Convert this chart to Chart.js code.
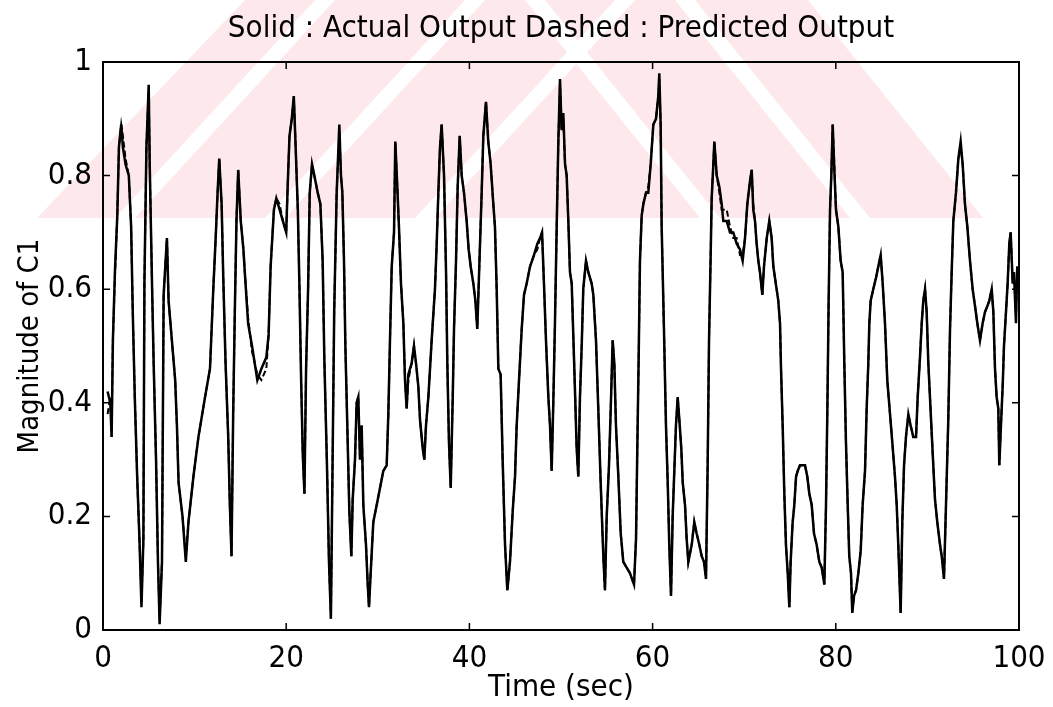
<!DOCTYPE html>
<html>
<head>
<meta charset="utf-8">
<title>Magnitude of C1</title>
<script src="https://cdn.jsdelivr.net/npm/chart.js@4.4.1/dist/chart.umd.min.js"></script>
<style>
  html, body { margin: 0; padding: 0; background: #ffffff; }
  #graficoC1 { display: block; }
</style>
</head>
<body>
<canvas id="graficoC1" width="1053" height="707"></canvas>
<script>
// Tempo (s)
const timeSec = [
    0.5, 0.8, 0.94, 1.08, 1.3, 1.56, 1.74, 1.99, 2.17, 2.46,
    2.82, 3.07, 3.25, 3.47, 3.73, 3.98, 4.2, 4.41, 4.52, 4.74,
    4.99, 5.1, 5.35, 5.53, 5.79, 6.0, 6.18, 6.44, 6.62, 6.98,
    7.16, 7.52, 7.88, 8.07, 8.25, 8.68, 9.04, 9.33, 9.87, 10.42,
    11.14, 11.68, 12.04, 12.3, 12.51, 12.69, 12.95, 13.13, 13.38, 13.67,
    13.85, 14.03, 14.21, 14.39, 14.57, 14.76, 15.04, 15.33, 15.48, 15.84,
    16.27, 16.56, 16.85, 17.29, 17.83, 18.08, 18.3, 18.66, 18.92, 19.28,
    19.64, 20.0, 20.18, 20.36, 20.61, 20.83, 21.01, 21.27, 21.45, 21.63,
    21.81, 21.99, 22.17, 22.39, 22.57, 22.82, 23.07, 23.44, 23.73, 23.98,
    24.16, 24.45, 24.67, 24.88, 25.06, 25.24, 25.51, 25.8, 25.98, 26.13,
    26.31, 26.46, 26.67, 26.89, 27.11, 27.26, 27.51, 27.69, 27.87, 28.06,
    28.24, 28.42, 28.71, 28.9, 29.04, 29.22, 29.51, 29.88, 30.24, 30.6,
    30.97, 31.15, 31.33, 31.52, 31.77, 31.91, 32.13, 32.31, 32.53, 32.79,
    32.97, 33.15, 33.33, 33.7, 33.95, 34.17, 34.42, 34.61, 34.9, 35.08,
    35.26, 35.52, 35.7, 35.88, 36.24, 36.43, 36.61, 36.79, 36.97, 37.23,
    37.45, 37.59, 37.77, 37.96, 38.18, 38.32, 38.54, 38.72, 38.94, 39.16,
    39.41, 39.7, 39.92, 40.14, 40.43, 40.65, 40.86, 41.08, 41.34, 41.52,
    41.81, 42.06, 42.32, 42.61, 42.79, 42.98, 43.16, 43.41, 43.63, 43.89,
    44.14, 44.43, 44.73, 44.98, 45.16, 45.45, 45.71, 45.96, 46.25, 46.62,
    47.05, 47.42, 47.71, 47.93, 48.14, 48.36, 48.62, 48.8, 48.98, 49.16,
    49.34, 49.53, 49.71, 49.89, 50.07, 50.25, 50.44, 50.62, 50.8, 50.98,
    51.17, 51.34, 51.53, 51.71, 51.89, 52.07, 52.26, 52.43, 52.73, 52.98,
    53.35, 53.53, 53.82, 54.07, 54.33, 54.62, 54.8, 54.99, 55.24, 55.43,
    55.64, 55.82, 56.0, 56.26, 56.52, 56.8, 57.17, 57.53, 57.97, 58.19,
    58.33, 58.48, 58.62, 58.81, 58.99, 59.28, 59.53, 59.79, 60.08, 60.37,
    60.62, 60.73, 60.88, 60.99, 61.24, 61.46, 61.65, 61.82, 62.01, 62.19,
    62.37, 62.55, 62.74, 62.92, 63.13, 63.29, 63.54, 63.72, 63.9, 64.27,
    64.55, 64.81, 65.1, 65.36, 65.61, 65.83, 66.01, 66.16, 66.34, 66.45,
    66.63, 66.74, 67.0, 67.29, 67.54, 67.72, 68.09, 68.45, 68.81, 69.18,
    69.54, 69.83, 70.09, 70.34, 70.63, 70.82, 70.99, 71.18, 71.36, 71.54,
    71.72, 71.98, 72.16, 72.46, 72.74, 73.0, 73.18, 73.36, 73.72, 73.91,
    74.02, 74.2, 74.38, 74.56, 74.75, 74.93, 75.07, 75.29, 75.47, 75.66,
    75.84, 76.09, 76.64, 76.89, 77.11, 77.37, 77.62, 77.91, 78.2, 78.46,
    78.75, 78.93, 79.08, 79.22, 79.37, 79.51, 79.66, 79.84, 80.02, 80.28,
    80.53, 80.75, 80.93, 81.11, 81.3, 81.47, 81.66, 81.8, 81.99, 82.21,
    82.46, 82.72, 82.93, 83.19, 83.37, 83.55, 83.66, 83.81, 84.09, 84.39,
    84.64, 84.9, 85.12, 85.37, 85.62, 85.92, 86.17, 86.46, 86.65, 86.82,
    87.08, 87.26, 87.45, 87.66, 87.92, 88.17, 88.46, 88.76, 88.94, 89.19,
    89.38, 89.55, 89.74, 89.92, 90.1, 90.28, 90.58, 90.83, 91.08, 91.38,
    91.56, 91.81, 92.03, 92.28, 92.47, 92.65, 92.83, 93.12, 93.38, 93.63,
    93.85, 94.1, 94.36, 94.65, 94.94, 95.2, 95.45, 95.74, 96.03, 96.29,
    96.54, 96.76, 97.02, 97.2, 97.38, 97.56, 97.74, 97.85, 98.03, 98.22,
    98.36, 98.58, 98.76, 98.94, 99.09, 99.31, 99.45, 99.67, 99.81, 100
];

// Saída real (linha cheia)
const actualOutput = [
    .42, .40, .34, .51, .63, .73, .85, .89, .85, .82,
    .80, .71, .56, .41, .27, .16, .04, .16, .61, .85,
    .96, .82, .61, .47, .30, .12, .01, .12, .59, .69,
    .58, .51, .44, .36, .26, .20, .12, .19, .27, .34,
    .41, .46, .60, .69, .77, .83, .75, .62, .47, .34,
    .22, .13, .38, .56, .72, .81, .72, .67, .63, .54,
    .50, .47, .44, .46, .48, .52, .64, .74, .76, .74,
    .72, .70, .79, .87, .90, .94, .86, .74, .60, .44,
    .31, .24, .46, .60, .77, .82, .80, .77, .75, .65,
    .48, .29, .12, .02, .29, .56, .77, .89, .80, .77,
    .65, .50, .36, .21, .13, .23, .30, .40, .41, .30,
    .36, .22, .15, .08, .04, .10, .19, .22, .25, .28,
    .29, .38, .51, .64, .70, .86, .78, .71, .61, .54,
    .44, .39, .45, .47, .50, .47, .43, .37, .32, .30,
    .36, .41, .46, .51, .60, .68, .77, .85, .89, .80,
    .63, .47, .33, .25, .41, .53, .65, .78, .87, .80,
    .77, .72, .67, .64, .61, .58, .53, .64, .77, .87,
    .93, .86, .82, .75, .71, .60, .46, .45, .30, .15,
    .07, .12, .21, .27, .36, .45, .53, .59, .61, .64,
    .66, .68, .69, .70, .61, .51, .41, .36, .28, .40,
    .54, .71, .86, .97, .88, .91, .82, .80, .72, .63,
    .61, .52, .42, .32, .27, .41, .50, .60, .65, .63,
    .61, .59, .51, .39, .26, .13, .07, .20, .29, .39,
    .51, .47, .36, .27, .17, .12, .11, .10, .08, .16,
    .32, .48, .65, .73, .75, .77, .77, .82, .89, .90,
    .94, .98, .89, .71, .53, .36, .26, .15, .06, .20,
    .28, .36, .41, .37, .32, .26, .22, .16, .12, .15,
    .19, .17, .15, .13, .12, .09, .29, .51, .66, .76,
    .82, .86, .80, .78, .75, .72, .72, .70, .70, .68,
    .67, .65, .69, .75, .79, .81, .74, .72, .68, .65,
    .63, .59, .64, .69, .72, .69, .64, .62, .58, .54,
    .46, .36, .24, .15, .10, .04, .12, .19, .22, .27,
    .28, .29, .29, .27, .24, .22, .17, .15, .12, .11,
    .08, .22, .39, .58, .74, .80, .89, .81, .74, .71,
    .65, .63, .47, .33, .22, .13, .10, .03, .06, .07,
    .10, .14, .22, .28, .39, .47, .54, .58, .60, .62,
    .64, .66, .61, .54, .44, .38, .33, .27, .22, .15,
    .03, .19, .29, .34, .38, .36, .34, .34, .41, .48,
    .54, .58, .60, .56, .47, .41, .31, .23, .19, .15,
    .13, .09, .22, .37, .53, .63, .72, .77, .83, .86,
    .82, .75, .71, .65, .60, .57, .54, .51, .54, .56,
    .57, .58, .60, .56, .46, .41, .39, .29, .36, .43,
    .50, .56, .61, .68, .70, .61, .63, .54, .64, .60
];

// Saída prevista (linha tracejada), quase sobreposta à real
const predictedOutput = [
    .38, .41, .34, .51, .62, .73, .85, .89, .87, .83,
    .80, .71, .56, .41, .27, .16, .05, .16, .61, .85,
    .95, .82, .61, .47, .30, .12, .02, .12, .59, .69,
    .58, .51, .44, .36, .26, .20, .13, .19, .27, .34,
    .41, .46, .60, .69, .77, .83, .75, .62, .47, .34,
    .22, .13, .38, .56, .72, .81, .72, .67, .63, .55,
    .49, .47, .45, .44, .46, .52, .64, .74, .76, .75,
    .72, .70, .79, .87, .90, .94, .86, .74, .60, .44,
    .31, .24, .46, .60, .77, .82, .80, .77, .75, .65,
    .48, .29, .12, .02, .29, .56, .77, .88, .80, .77,
    .65, .50, .36, .21, .13, .23, .30, .40, .41, .30,
    .36, .22, .15, .08, .04, .10, .19, .22, .25, .28,
    .29, .38, .51, .64, .70, .86, .78, .71, .61, .54,
    .44, .39, .44, .47, .50, .47, .43, .37, .32, .30,
    .36, .41, .46, .51, .60, .68, .77, .85, .89, .80,
    .63, .47, .33, .25, .41, .53, .65, .78, .87, .80,
    .77, .72, .67, .64, .61, .58, .53, .64, .77, .87,
    .93, .86, .82, .75, .71, .60, .46, .45, .30, .15,
    .07, .12, .21, .27, .36, .45, .53, .59, .61, .64,
    .66, .67, .69, .70, .61, .51, .41, .36, .28, .40,
    .54, .71, .86, .96, .88, .90, .82, .80, .72, .63,
    .61, .52, .42, .32, .27, .41, .50, .60, .65, .63,
    .61, .59, .51, .39, .26, .13, .07, .20, .29, .39,
    .51, .47, .36, .27, .17, .12, .11, .10, .08, .16,
    .32, .48, .65, .73, .75, .77, .78, .82, .89, .90,
    .94, .97, .89, .71, .53, .36, .26, .15, .06, .20,
    .28, .36, .41, .37, .32, .26, .22, .16, .12, .15,
    .19, .17, .15, .13, .12, .09, .29, .51, .66, .76,
    .82, .86, .80, .77, .74, .74, .74, .71, .69, .69,
    .66, .66, .69, .75, .79, .81, .75, .72, .68, .65,
    .63, .59, .64, .69, .72, .69, .64, .62, .58, .54,
    .46, .36, .24, .15, .10, .04, .12, .19, .22, .27,
    .28, .29, .29, .27, .24, .22, .17, .15, .12, .11,
    .08, .22, .39, .58, .74, .80, .89, .82, .74, .71,
    .65, .63, .47, .33, .22, .13, .10, .03, .06, .07,
    .10, .14, .22, .28, .39, .47, .54, .58, .60, .62,
    .64, .66, .61, .54, .44, .38, .33, .27, .22, .15,
    .03, .19, .29, .34, .38, .36, .34, .34, .41, .48,
    .54, .58, .60, .56, .47, .41, .31, .23, .19, .15,
    .13, .09, .22, .37, .53, .63, .72, .77, .83, .85,
    .82, .75, .71, .65, .60, .57, .54, .51, .54, .56,
    .57, .58, .60, .56, .46, .41, .39, .29, .36, .43,
    .50, .56, .61, .68, .70, .61, .63, .55, .64, .60
];

const xTicks = [0, 20, 40, 60, 80, 100];
const yTicks = [0, 0.2, 0.4, 0.6, 0.8, 1];

const chartTitle = 'Solid : Actual Output Dashed : Predicted Output';
const xTitle = 'Time (sec)';
const yTitle = 'Magnitude of C1';

const FONT = "'Liberation Sans Narrow', 'DejaVu Sans Condensed', 'Liberation Sans', Arial, sans-serif";

function toPoints(values) {
    return values.map((v, i) => ({ x: timeSec[i], y: v }));
}

// Fundo branco + marca d'água rosada (apenas decoração)
const fundoPlugin = {
    id: 'fundo',
    beforeDraw(chart) {
        const ctx = chart.ctx;
        ctx.save();
        ctx.fillStyle = '#ffffff';
        ctx.fillRect(0, 0, chart.width, chart.height);

        ctx.beginPath();
        ctx.rect(0, 0, chart.width, 218);
        ctx.clip();

        ctx.fillStyle = '#fde8ec';
        ctx.beginPath();
        ctx.moveTo(37, 218);
        ctx.lineTo(983, 218);
        ctx.lineTo(808, 0);
        ctx.lineTo(245, 0);
        ctx.closePath();
        ctx.fill();

        // listras brancas diagonais
        ctx.fillStyle = '#ffffff';
        const listrasEsq = [115, 265, 415];
        listrasEsq.forEach(x0 => {
            ctx.beginPath();
            ctx.moveTo(x0, 218);
            ctx.lineTo(x0 + 20, 218);
            ctx.lineTo(x0 + 220, 0);
            ctx.lineTo(x0 + 200, 0);
            ctx.closePath();
            ctx.fill();
        });
        const listrasDir = [700, 850];
        listrasDir.forEach(x0 => {
            ctx.beginPath();
            ctx.moveTo(x0, 218);
            ctx.lineTo(x0 + 20, 218);
            ctx.lineTo(x0 - 155, 0);
            ctx.lineTo(x0 - 175, 0);
            ctx.closePath();
            ctx.fill();
        });
        ctx.restore();
    }
};

// Moldura estilo MATLAB com marcas para dentro + título centrado na área do gráfico
const molduraPlugin = {
    id: 'moldura',
    afterDraw(chart) {
        const ctx = chart.ctx;
        const a = chart.chartArea;
        const xs = chart.scales.x;
        const ys = chart.scales.y;
        const tick = 7;
        ctx.save();
        ctx.strokeStyle = '#000000';
        ctx.lineWidth = 2;
        ctx.strokeRect(a.left, a.top, a.right - a.left, a.bottom - a.top);
        ctx.lineWidth = 1.5;
        ctx.beginPath();
        xTicks.forEach(v => {
            const px = xs.getPixelForValue(v);
            ctx.moveTo(px, a.bottom);
            ctx.lineTo(px, a.bottom - tick);
            ctx.moveTo(px, a.top);
            ctx.lineTo(px, a.top + tick);
        });
        yTicks.forEach(v => {
            const py = ys.getPixelForValue(v);
            ctx.moveTo(a.left, py);
            ctx.lineTo(a.left + tick, py);
            ctx.moveTo(a.right, py);
            ctx.lineTo(a.right - tick, py);
        });
        ctx.stroke();

        ctx.fillStyle = '#000000';
        ctx.font = '31px ' + FONT;
        ctx.textAlign = 'center';
        ctx.textBaseline = 'middle';
        ctx.fillText(chartTitle, (a.left + a.right) / 2, 29);
        ctx.restore();
    }
};

const ctxC1 = document.getElementById('graficoC1');

const config = {
    type: 'line',
    data: {
        datasets: [{
            label: 'Actual Output',
            data: toPoints(actualOutput),
            borderColor: '#000000',
            borderWidth: 2.5,
            pointRadius: 0,
            tension: 0,
            fill: false
        }, {
            label: 'Predicted Output',
            data: toPoints(predictedOutput),
            borderColor: '#000000',
            borderWidth: 2,
            borderDash: [6, 3],
            pointRadius: 0,
            tension: 0,
            fill: false
        }]
    },
    options: {
        responsive: false,
        animation: false,
        layout: {
            padding: { top: 62, right: 34, bottom: 0, left: 0 }
        },
        scales: {
            x: {
                type: 'linear',
                min: 0,
                max: 100,
                afterFit: function (scale) { scale.height = 77; },
                afterBuildTicks: function (scale) {
                    scale.ticks = xTicks.map(v => ({ value: v }));
                },
                grid: { display: false },
                border: { display: false },
                ticks: {
                    color: '#000000',
                    padding: 2,
                    maxRotation: 0,
                    font: { family: FONT, size: 31 }
                },
                title: {
                    display: true,
                    text: xTitle,
                    color: '#000000',
                    padding: { top: 0, bottom: 0 },
                    font: { family: FONT, size: 31 }
                }
            },
            y: {
                min: 0,
                max: 1,
                afterFit: function (scale) { scale.width = 103; },
                afterBuildTicks: function (scale) {
                    scale.ticks = yTicks.map(v => ({ value: v }));
                },
                grid: { display: false },
                border: { display: false },
                ticks: {
                    color: '#000000',
                    padding: 3,
                    font: { family: FONT, size: 31 },
                    callback: function (value) {
                        return String(Number(value.toFixed(1)));
                    }
                },
                title: {
                    display: true,
                    text: yTitle,
                    color: '#000000',
                    padding: { top: 13, bottom: 0 },
                    font: { family: FONT, size: 29 }
                }
            }
        },
        plugins: {
            legend: { display: false },
            tooltip: { enabled: false }
        }
    },
    plugins: [fundoPlugin, molduraPlugin]
};

new Chart(ctxC1, config);
</script>
</body>
</html>
